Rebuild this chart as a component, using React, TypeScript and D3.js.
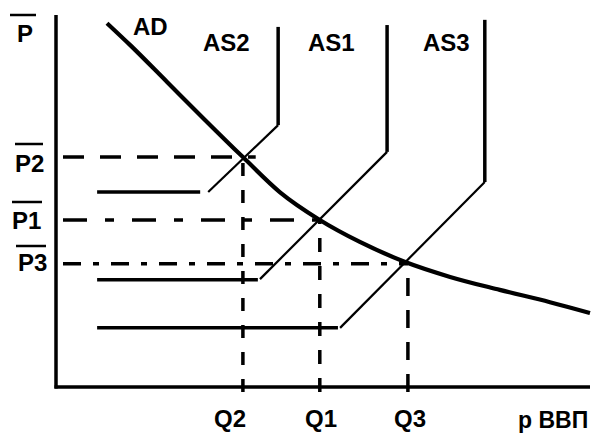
import React from 'react';
import * as d3 from 'd3';

// ---- data (schematic units 0..100 on both axes) ----
const adPoints: [number, number][] = [
  [9.55, 97.8], [13.9, 91.9], [20.8, 82.0], [27.9, 71.8], [35.0, 61.8],
  [41.9, 52.4], [49.4, 44.9], [56.9, 39.0], [65.4, 33.6], [73.8, 29.6],
  [83.1, 26.1], [92.5, 22.8], [100, 19.9],
];

const asNames = ['AS2', 'AS1', 'AS3'];
// horizontal segment: [xStart, xEnd, level]
const asFlat: [number, number, number][] = [
  [7.7, 27.0, 52.4],
  [7.7, 37.8, 28.8],
  [7.7, 52.8, 15.9],
];
// rising segment: [x0, y0, x1, y1]
const asRise: [number, number, number, number][] = [
  [28.5, 52.4, 41.6, 70.4],
  [38.2, 29.0, 62.0, 63.2],
  [53.2, 15.9, 80.3, 55.1],
];
// top of the vertical segment
const asTop = [96.8, 97.3, 98.7];

const eqSuffix = ['2', '1', '3'];
const eqQ = [35.0, 49.4, 65.9];
const eqP = [61.8, 44.9, 33.1];
// how far the price guide runs past the equilibrium quantity
const eqPriceGuideEnd = [37.4, 49.4, 65.9];

const xAxisLabel = 'р ВВП';
const yAxisLabel = 'P';
const adLabel = 'AD';

// ---- layout ----
const W = 598;
const H = 434;
const x = d3.scaleLinear().domain([0, 100]).range([56, 590]);
const y = d3.scaleLinear().domain([0, 100]).range([387, 15]);

const FONT = "'Liberation Sans', Arial, sans-serif";
const priceDash = ['21,16', '24,18,9,18', '18,12,6,12'];
const qtyDash = ['13,14', '14,14', '18,14'];
const pLabelPos = [
  { tx: 15, ty: 172, ox1: 15, ox2: 43, oy: 144 },
  { tx: 12, ty: 229, ox1: 12, ox2: 42, oy: 202 },
  { tx: 18, ty: 271, ox1: 16, ox2: 46, oy: 246 },
];
const qLabelX = [214, 305, 394];
const asLabelX = [203, 308, 423];

export default function App() {
  const adLine = d3
    .line<[number, number]>()
    .x((d) => x(d[0]))
    .y((d) => y(d[1]))
    .curve(d3.curveMonotoneX);

  const textStyle = { fontFamily: FONT, fontWeight: 700, fontSize: 24, fill: '#000' } as const;

  return (
    <svg
      width={W}
      height={H}
      style={{ position: 'absolute', left: 0, top: 0, background: '#fff' }}
    >
      <rect x={0} y={0} width={W} height={H} fill="#fff" />

      {/* guide lines */}
      {eqQ.map((q, i) => (
        <g key={'g' + i}>
          <line
            x1={x(0)}
            x2={x(eqPriceGuideEnd[i])}
            y1={y(eqP[i])}
            y2={y(eqP[i])}
            stroke="#000"
            strokeWidth={3.5}
            strokeDasharray={priceDash[i]}
            strokeDashoffset={-7}
          />
          <line
            x1={x(q)}
            x2={x(q)}
            y1={y(0) + 5}
            y2={y(eqP[i])}
            stroke="#000"
            strokeWidth={3.5}
            strokeDasharray={qtyDash[i]}
          />
        </g>
      ))}

      {/* AS curves */}
      {asNames.map((n, i) => {
        const [fx0, fx1, fy] = asFlat[i];
        const [rx0, ry0, rx1, ry1] = asRise[i];
        return (
          <g key={n}>
            <line x1={x(fx0)} x2={x(fx1)} y1={y(fy)} y2={y(fy)} stroke="#000" strokeWidth={3.5} />
            <line x1={x(rx0)} y1={y(ry0)} x2={x(rx1)} y2={y(ry1)} stroke="#000" strokeWidth={2.2} />
            <line x1={x(rx1)} x2={x(rx1)} y1={y(ry1)} y2={y(asTop[i])} stroke="#000" strokeWidth={3.5} />
            <text x={asLabelX[i]} y={51} style={textStyle}>
              {n}
            </text>
          </g>
        );
      })}

      {/* AD curve */}
      <path d={adLine(adPoints) || ''} fill="none" stroke="#000" strokeWidth={4.2} />
      <text x={133} y={35} style={textStyle}>
        {adLabel}
      </text>

      {/* axes */}
      <line x1={x(0)} x2={x(0)} y1={y(100)} y2={y(0) + 1.5} stroke="#000" strokeWidth={3.5} />
      <line x1={x(0) - 1.5} x2={x(100)} y1={y(0)} y2={y(0)} stroke="#000" strokeWidth={3.5} />

      {/* y-axis label with overline */}
      <line x1={10} x2={36} y1={15} y2={15} stroke="#000" strokeWidth={2.5} />
      <text x={17} y={42} style={textStyle}>
        {yAxisLabel}
      </text>

      {/* price labels */}
      {eqSuffix.map((s, i) => (
        <g key={'p' + s}>
          <line
            x1={pLabelPos[i].ox1}
            x2={pLabelPos[i].ox2}
            y1={pLabelPos[i].oy}
            y2={pLabelPos[i].oy}
            stroke="#000"
            strokeWidth={2.5}
          />
          <text x={pLabelPos[i].tx} y={pLabelPos[i].ty} style={textStyle}>
            {'P' + s}
          </text>
        </g>
      ))}

      {/* quantity labels */}
      {eqSuffix.map((s, i) => (
        <text key={'q' + s} x={qLabelX[i]} y={427} style={textStyle}>
          {'Q' + s}
        </text>
      ))}
      <text x={518} y={428} style={{ ...textStyle, fontSize: 23 }}>
        {xAxisLabel}
      </text>
    </svg>
  );
}
